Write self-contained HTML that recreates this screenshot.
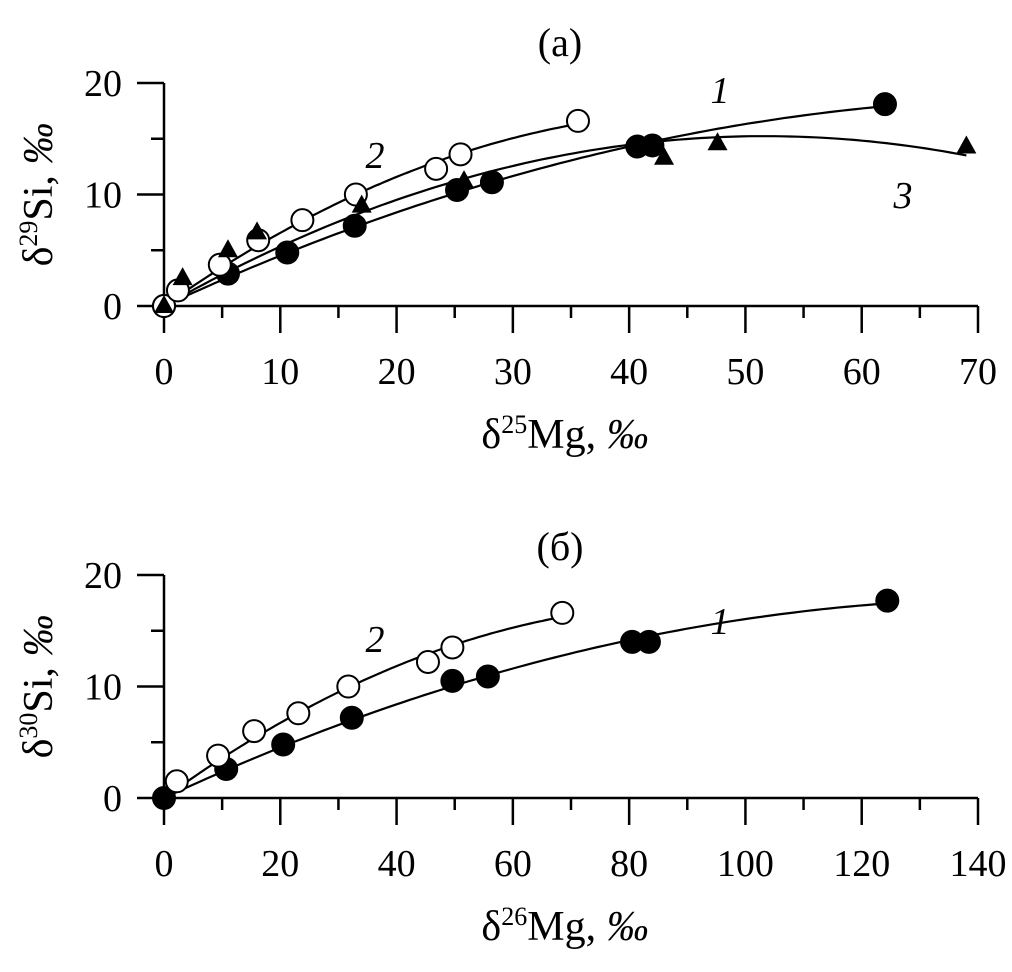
<!DOCTYPE html>
<html><head><meta charset="utf-8"><style>
body{margin:0;background:#fff}
svg{display:block;font-family:"Liberation Serif",serif}
</style></head><body>
<svg id="c" width="1012" height="972" xmlns="http://www.w3.org/2000/svg"></svg>
<script>
// Panel (a)
const a1x=[0,5.5,10.6,16.4,25.2,28.2,40.7,42,62];
const a1y=[0,2.9,4.8,7.2,10.4,11.1,14.3,14.4,18.1];
const a2x=[0,1.2,4.8,8.1,11.9,16.5,23.4,25.5,35.6];
const a2y=[0,1.4,3.7,5.9,7.7,10.0,12.3,13.6,16.6];
const a3x=[0,1.6,5.5,8,17,25.8,43,47.6,69];
const a3y=[0,2.5,5.0,6.6,9.0,11.2,13.3,14.6,14.3];
const aXTicks=[0,10,20,30,40,50,60,70];
const aYTicks=[0,10,20];
// Panel (b)
const b1x=[0,10.7,20.5,32.3,49.6,55.7,80.5,83.4,124.4];
const b1y=[0,2.6,4.8,7.2,10.5,10.9,14.0,14.0,17.7];
const b2x=[2.2,9.3,15.5,23.1,31.7,45.4,49.6,68.5];
const b2y=[1.5,3.8,6.0,7.6,10.0,12.2,13.5,16.6];
const bXTicks=[0,20,40,60,80,100,120,140];
const bYTicks=[0,10,20];

const NS="http://www.w3.org/2000/svg";
const svg=document.getElementById('c');
function mk(tag,attrs,parent){const e=document.createElementNS(NS,tag);for(const k in attrs)e.setAttribute(k,attrs[k]);(parent||svg).appendChild(e);return e;}

// quadratic fit through origin y=a x + b x^2
function fit(xs,ys){let s22=0,s23=0,s24=0,sxy=0,sx2y=0;
 for(let i=0;i<xs.length;i++){const x=xs[i],y=ys[i];s22+=x*x;s23+=x*x*x;s24+=x*x*x*x;sxy+=x*y;sx2y+=x*x*y;}
 const d=s22*s24-s23*s23;return [(sxy*s24-sx2y*s23)/d,(s22*sx2y-s23*sxy)/d];}

function panel(o){
 const g=mk('g',{});
 
 
 const X=v=>o.x0+(v-o.xmin)/(o.xmax-o.xmin)*(o.x1-o.x0);
 const Y=v=>o.y0-(v/o.ymax)*(o.y0-o.y1);
 const ax=mk('path',{d:`M${o.x0},${o.y1}V${o.y0}H${o.x1}`,stroke:'#000','stroke-width':2.5,fill:'none'},g);
 
 
 const step=o.xTicks[1]-o.xTicks[0];
 for(let i=0;i<o.xTicks.length;i++){const v=o.xTicks[i];
  const t=mk('line',{x1:X(v),x2:X(v),y1:o.y0,y2:o.y0+27,stroke:'#000','stroke-width':2.5},g);
  
  
  if(i<o.xTicks.length-1){const m=mk('line',{x1:X(v+step/2),x2:X(v+step/2),y1:o.y0,y2:o.y0+12,stroke:'#000','stroke-width':2.5},g);
   
   }
  const l=mk('text',{x:X(v),y:o.y0+78,'font-size':38,'text-anchor':'middle'},g);l.textContent=v;
  
  }
 const ys=o.yTicks[1]-o.yTicks[0];
 for(let i=0;i<o.yTicks.length;i++){const v=o.yTicks[i];
  const t=mk('line',{x1:o.x0-27,x2:o.x0,y1:Y(v),y2:Y(v),stroke:'#000','stroke-width':2.5},g);
  
  
  if(i<o.yTicks.length-1){const m=mk('line',{x1:o.x0-13,x2:o.x0,y1:Y(v+ys/2),y2:Y(v+ys/2),stroke:'#000','stroke-width':2.5},g);
   
   }
  const l=mk('text',{x:o.x0-42,y:Y(v)+13,'font-size':38,'text-anchor':'end'},g);l.textContent=v;
  
  }
 o.series.forEach(s=>{
  const [a,b]=fit(s.x,s.y);let d='';const xe=Math.max(...s.x);
  for(let k=0;k<=100;k++){const x=xe*k/100;d+=(k?'L':'M')+X(x).toFixed(1)+','+Y(a*x+b*x*x).toFixed(1);}
  const c=mk('path',{d:d,stroke:'#000','stroke-width':2.2,fill:'none'},g);
  
  
 });
 o.series.forEach(s=>{
  for(let i=0;i<s.x.length;i++){const cx=X(s.x[i]),cy=Y(s.y[i]);let m;
   if(s.m==='tri'){m=mk('path',{d:`M${cx},${cy-11}L${cx+10},${cy+7}L${cx-10},${cy+7}Z`,fill:'#000'},g);}
   else m=mk('circle',{cx:cx,cy:cy,r:11,fill:s.m==='open'?'#fff':'#000',stroke:'#000','stroke-width':2},g);
   
   }
 });
 const tt=mk('text',{x:560,y:o.titleY,'font-size':40,'text-anchor':'middle'},g);tt.textContent=o.title;
 
 
 const xt=mk('text',{x:565,y:o.y0+142,'font-size':42,'text-anchor':'middle'},g);
 xt.innerHTML=`δ<tspan font-size="26" dy="-15">${o.xiso}</tspan><tspan dy="15">Mg, </tspan><tspan font-style="italic">‰</tspan>`;
 
 
 const yt=mk('text',{x:0,y:0,'font-size':42,'text-anchor':'middle',transform:`translate(52,${(o.y0+o.y1)/2}) rotate(-90)`},g);
 yt.innerHTML=`δ<tspan font-size="26" dy="-15">${o.yiso}</tspan><tspan dy="15">Si, </tspan><tspan font-style="italic">‰</tspan>`;
 
 
 o.labels.forEach(L=>{const t=mk('text',{x:L[0],y:L[1],'font-size':38,'font-style':'italic','text-anchor':'middle'},g);t.textContent=L[2];
  
  });
}
panel({name:'panel-a',x0:164,x1:978,xmin:0,xmax:70,y0:306,y1:83,ymax:20,xTicks:aXTicks,yTicks:aYTicks,title:'(a)',titleY:56,xiso:'25',yiso:'29',
 series:[{name:'series-1',x:a1x,y:a1y,m:'fill'},{name:'series-2',x:a2x,y:a2y,m:'open'},{name:'series-3',x:a3x,y:a3y,m:'tri'}],
 labels:[[720,103,'1'],[375,168,'2'],[903,208,'3']]});
panel({name:'panel-b',x0:164,x1:978,xmin:0,xmax:140,y0:798,y1:575,ymax:20,xTicks:bXTicks,yTicks:bYTicks,title:'(б)',titleY:560,xiso:'26',yiso:'30',
 series:[{name:'series-1',x:b1x,y:b1y,m:'fill'},{name:'series-2',x:b2x,y:b2y,m:'open'}],
 labels:[[720,634,'1'],[375,652,'2']]});
</script>
</body></html>
